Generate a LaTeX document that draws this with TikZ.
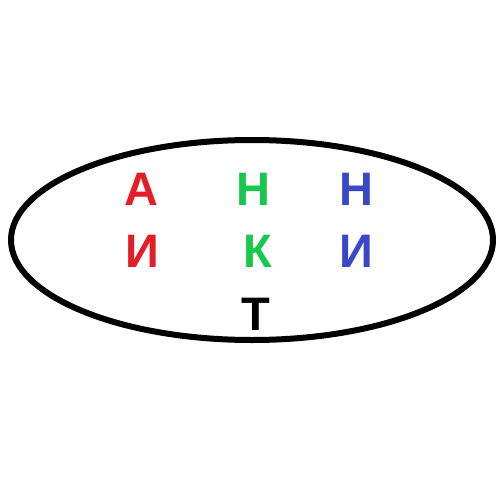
\documentclass[tikz,border=0pt]{standalone}
\usepackage{fontspec}
\setmainfont{Liberation Sans}
\tikzset{
  letter/.style={anchor=base, inner sep=0pt, font=\fontsize{47}{47}\selectfont\bfseries},
}
\begin{document}
\begin{tikzpicture}[x=1pt, y=-1pt]
        \definecolor{letterred}{RGB}{228,30,38}
\definecolor{lettergreen}{RGB}{24,200,76}
\definecolor{letterblue}{RGB}{58,72,200}
\useasboundingbox (0,0) rectangle (500,500);
\draw[black, line width=6pt] (252,240) ellipse [x radius=241, y radius=100];
\node[letter, letterred] (a1) at (141,205) {А};
\node[letter, lettergreen] (n1) at (253,205) {Н};
\node[letter, letterblue] (n2) at (356,205) {Н};
\node[letter, letterred] (i1) at (142.5,267) {И};
\node[letter, lettergreen] (k1) at (257.5,267) {К};
\node[letter, letterblue] (i2) at (356,267) {И};
\node[letter, black] (t1) at (256,330) {Т};
        \end{tikzpicture}
\end{document}
